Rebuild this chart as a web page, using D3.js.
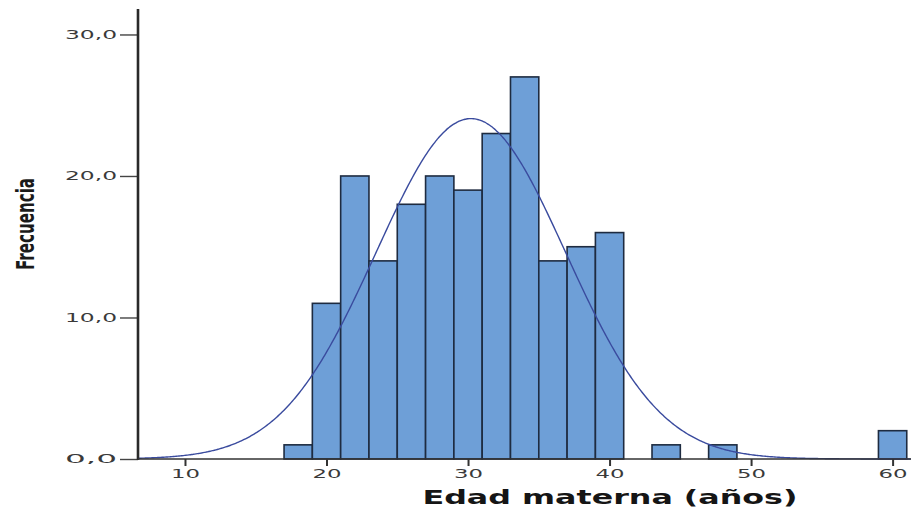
<!DOCTYPE html>
<html>
<head>
<meta charset="utf-8">
<script src="https://cdn.jsdelivr.net/npm/d3@7"></script>
<style>
  html, body { margin: 0; padding: 0; background: #ffffff; }
  svg { display: block; }
</style>
</head>
<body>
<svg id="chart" width="915" height="510"></svg>
<script>
// Histogram of maternal age (2-year bins) with fitted normal curve
const binStarts = [17, 19, 21, 23, 25, 27, 29, 31, 33, 35, 37, 39, 43, 47, 59];
const counts    = [1, 11, 20, 14, 18, 20, 19, 23, 27, 14, 15, 16, 1, 1, 2];
const binWidth = 2;
const xTicks = [10, 20, 30, 40, 50, 60];
const yTicks = [0, 10, 20, 30];
const fitMean = 30.2;
const fitSd = 6.7;
const xTitle = "Edad materna (años)";
const yTitle = "Frecuencia";

const svg = d3.select("#chart");

const x = d3.scaleLinear().domain([6.68, 61.3]).range([138, 911]);
const y = d3.scaleLinear().domain([0, 31.8]).range([459, 9]);

const bins = binStarts.map((s, i) => ({ x0: s, x1: s + binWidth, n: counts[i] }));
const total = d3.sum(counts);

// bars
svg.append("g")
  .selectAll("rect")
  .data(bins)
  .join("rect")
  .attr("x", d => x(d.x0))
  .attr("y", d => y(d.n))
  .attr("width", d => x(d.x1) - x(d.x0))
  .attr("height", d => y(0) - y(d.n))
  .attr("fill", "#6e9fd7")
  .attr("stroke", "#1e2b40")
  .attr("stroke-width", 1.6);

// normal curve scaled to counts
const dens = v => total * binWidth / (fitSd * Math.sqrt(2 * Math.PI)) *
  Math.exp(-((v - fitMean) ** 2) / (2 * fitSd * fitSd));
const xs = d3.range(x.domain()[0], x.domain()[1], 0.1);
svg.append("path")
  .datum(xs)
  .attr("fill", "none")
  .attr("stroke", "#3a4b9e")
  .attr("stroke-width", 1.4)
  .attr("d", d3.line().x(v => x(v)).y(v => y(dens(v))).curve(d3.curveBasis));

const fmt = d => d.toFixed(1).replace(".", ",");

// y axis
const gy = svg.append("g")
  .attr("transform", "translate(138,0)")
  .call(d3.axisLeft(y).tickValues(yTicks).tickSize(18).tickPadding(3).tickFormat(fmt));
gy.select(".domain").remove();
gy.selectAll(".tick line").attr("stroke", "#444").attr("stroke-width", 1.4);
gy.selectAll(".tick text")
  .attr("font-family", "DejaVu Sans")
  .attr("font-size", 12)
  .attr("fill", "#3a3a3a")
  .attr("textLength", 52)
  .attr("lengthAdjust", "spacingAndGlyphs");
svg.append("line")
  .attr("x1", 138).attr("x2", 138)
  .attr("y1", y.range()[1]).attr("y2", y(0) + 1)
  .attr("stroke", "#2a2a2a").attr("stroke-width", 2.6);

// x axis
const gx = svg.append("g")
  .attr("transform", `translate(0,${y(0)})`)
  .call(d3.axisBottom(x).tickValues(xTicks).tickSize(7).tickPadding(3).tickFormat(d3.format("d")));
gx.select(".domain").attr("stroke", "#333").attr("stroke-width", 1.3)
  .attr("d", `M138,0H${x.range()[1]}`);
gx.selectAll(".tick line").attr("stroke", "#333").attr("stroke-width", 2);
gx.selectAll(".tick text")
  .attr("font-family", "DejaVu Sans")
  .attr("font-size", 12)
  .attr("fill", "#3a3a3a")
  .attr("textLength", 29)
  .attr("lengthAdjust", "spacingAndGlyphs");

// axis titles
svg.append("text")
  .attr("x", 610).attr("y", 504)
  .attr("text-anchor", "middle")
  .attr("font-family", "DejaVu Sans")
  .attr("font-weight", "bold")
  .attr("font-size", 19)
  .attr("fill", "#151515")
  .attr("textLength", 375)
  .attr("lengthAdjust", "spacingAndGlyphs")
  .text(xTitle);

svg.append("text")
  .attr("transform", "translate(34,224) rotate(-90)")
  .attr("text-anchor", "middle")
  .attr("font-family", "DejaVu Sans Condensed")
  .attr("font-weight", "bold")
  .attr("font-size", 25)
  .attr("fill", "#1a1a1a")
  .attr("textLength", 92)
  .attr("lengthAdjust", "spacingAndGlyphs")
  .text(yTitle);
</script>
</body>
</html>
